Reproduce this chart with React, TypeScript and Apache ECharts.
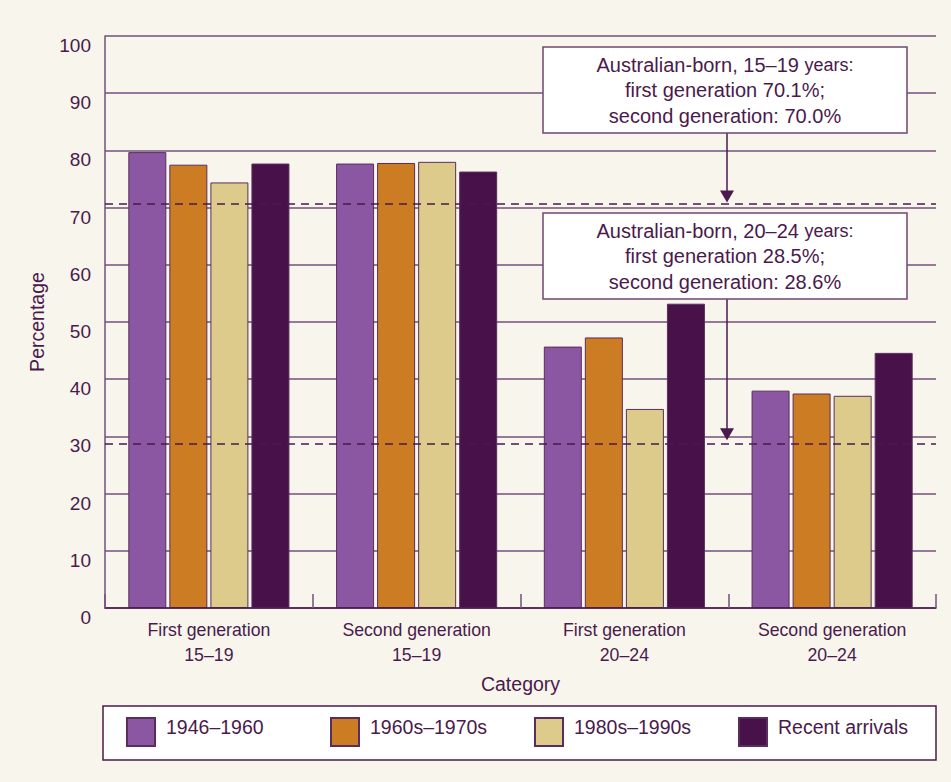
import React, { useEffect, useRef } from "react";
import * as echarts from "echarts";

const categories = ["First generation\n15–19", "Second generation\n15–19", "First generation\n20–24", "Second generation\n20–24"];
const seriesNames = ["1946–1960", "1960s–1970s", "1980s–1990s", "Recent arrivals"];
const s1946 = [79.7, 77.7, 45.7, 38.0];
const s1960s = [77.5, 77.8, 47.3, 37.5];
const s1980s = [74.4, 78.0, 34.8, 37.1];
const sRecent = [77.7, 76.3, 53.2, 44.6];
const refLevels = [70.7, 28.8];
const yTicks = { min: 0, max: 100, interval: 10 };

const colors = ["#8b57a2", "#cc7d24", "#dccb8b", "#49114a"];
const TXT = "#4a1a4c";
const GRIDC = "#75507a";
const FONT = "'Liberation Sans', Arial, sans-serif";

export default function App() {
  const ref = useRef<HTMLDivElement>(null);
  useEffect(() => {
    if (!ref.current) return;
    const chart = echarts.init(ref.current, undefined, { renderer: "svg" });
    const values = [s1946, s1960s, s1980s, sRecent];
    const legendLefts = [126, 330, 534, 738];
    const option: any = {
      animation: false,
      backgroundColor: "#f8f5ed",
      textStyle: { fontFamily: FONT, color: TXT },
      grid: { left: 105, right: 15, top: 36, bottom: 174, containLabel: false },
      legend: seriesNames.map((n, i) => ({
        data: [n],
        left: legendLefts[i],
        top: 717,
        padding: 0,
        itemWidth: 28,
        itemHeight: 28,
        icon: "rect",
        z: 10,
        formatter: "{t|{name}}",
        textStyle: {
          fontSize: 19.5,
          color: TXT,
          fontFamily: FONT,
          rich: { t: { fontSize: 19.5, color: TXT, fontFamily: FONT, padding: [0, 0, 10, 6] } },
        },
        selectedMode: false,
      })),
      xAxis: {
        type: "category",
        data: categories,
        axisLine: { show: true, lineStyle: { color: TXT, width: 1.5 } },
        axisTick: { show: true, inside: true, length: 14, interval: 0, lineStyle: { color: GRIDC, width: 1.5 } },
        axisLabel: { fontSize: 17.7, lineHeight: 25, color: TXT, margin: 9, interval: 0, fontFamily: FONT },
        name: "Category",
        nameLocation: "middle",
        nameGap: 76,
        nameTextStyle: { fontSize: 19.5, color: TXT, verticalAlign: "middle", fontFamily: FONT },
        z: 5,
      },
      yAxis: {
        type: "value",
        min: yTicks.min,
        max: yTicks.max,
        interval: yTicks.interval,
        axisLine: { show: true, lineStyle: { color: GRIDC, width: 1.5 } },
        axisTick: { show: false },
        splitLine: { show: true, lineStyle: { color: GRIDC, width: 1.5 } },
        axisLabel: { fontSize: 19, color: TXT, margin: 14, verticalAlign: "top", fontFamily: FONT },
        name: "Percentage",
        nameLocation: "middle",
        nameRotate: 90,
        nameGap: 58,
        nameTextStyle: { fontSize: 19.5, color: TXT, fontFamily: FONT },
      },
      series: seriesNames.map((n, i) => ({
        name: n,
        type: "bar",
        data: values[i],
        barWidth: 38,
        barGap: "8%",
        z: 3,
        itemStyle: { color: colors[i], borderColor: "#5b2d5e", borderWidth: 1 },
        ...(i === 0
          ? {
              markLine: {
                silent: true,
                symbol: ["none", "none"],
                label: { show: false },
                lineStyle: { color: TXT, width: 1.5, type: [8, 6] },
                data: refLevels.map((v) => ({ yAxis: v })),
                z: 4,
              },
            }
          : {}),
      })),
    };
    chart.setOption(option);

    const y1 = chart.convertToPixel({ yAxisIndex: 0 }, refLevels[0]) as number;
    const y2 = chart.convertToPixel({ yAxisIndex: 0 }, refLevels[1]) as number;
    const ax = 727;
    const boxX = 543, boxW = 364, boxH = 86;
    const b1y = 47, b2y = 213;
    const rich = {
      a: { fontSize: 20, fill: TXT, fontFamily: FONT, lineHeight: 25.5 },
      b: { fontSize: 18, fill: TXT, fontFamily: FONT, lineHeight: 25.5 },
    };
    const box = (y: number, lines: string) => ({
      type: "group",
      z: 20,
      children: [
        { type: "rect", shape: { x: boxX, y, width: boxW, height: boxH }, style: { fill: "#ffffff", stroke: "#6e4771", lineWidth: 1.5 }, z: 20 },
        {
          type: "text",
          x: boxX + boxW / 2,
          y: y + boxH / 2,
          z: 21,
          style: { text: lines, rich, align: "center", verticalAlign: "middle", fill: TXT, font: `20px ${FONT}` },
        },
      ],
    });
    const arrow = (y0: number, tip: number) => [
      { type: "line", z: 19, shape: { x1: ax, y1: y0, x2: ax, y2: tip - 8 }, style: { stroke: TXT, lineWidth: 1.5 } },
      { type: "polygon", z: 19, shape: { points: [[ax - 7, tip - 12], [ax + 7, tip - 12], [ax, tip]] }, style: { fill: TXT } },
    ];
    chart.setOption({
      graphic: [
        { type: "rect", z: 0, shape: { x: 103, y: 706, width: 833, height: 54 }, style: { fill: "#ffffff", stroke: TXT, lineWidth: 1.5 } },
        box(b1y, "{a|Australian-born, 15–19 }{b|years:}\n{a|first generation 70.1%;}\n{a|second generation: 70.0%}"),
        box(b2y, "{a|Australian-born, 20–24 }{b|years:}\n{a|first generation 28.5%;}\n{a|second generation: 28.6%}"),
        ...arrow(b1y + boxH, y1 - 1),
        ...arrow(b2y + boxH, y2 - 3),
      ],
    });
    return () => chart.dispose();
  }, []);
  return <div ref={ref} style={{ position: "fixed", left: 0, top: 0, width: 951, height: 782 }} />;
}
